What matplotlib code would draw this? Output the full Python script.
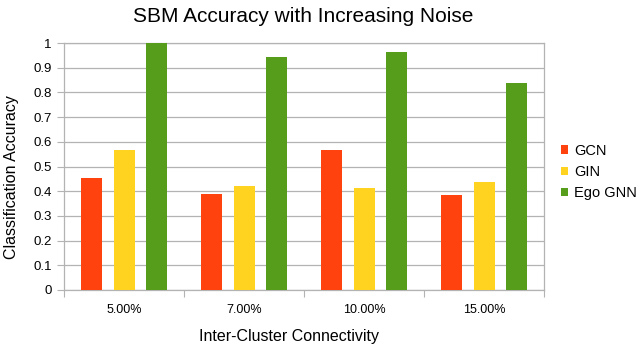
import matplotlib
matplotlib.use("Agg")
import matplotlib.pyplot as plt
import numpy as np

plt.rcParams['font.family'] = ['Liberation Sans', 'DejaVu Sans']

categories = ["5.00%", "7.00%", "10.00%", "15.00%"]
series_names = ["GCN", "GIN", "Ego GNN"]
gcn = [0.455, 0.387, 0.567, 0.385]
gin = [0.568, 0.422, 0.412, 0.437]
ego = [1.0, 0.945, 0.965, 0.837]
colors = ["#ff420e", "#ffd320", "#579d1c"]
yticks = [0, 0.1, 0.2, 0.3, 0.4, 0.5, 0.6, 0.7, 0.8, 0.9, 1]
ytick_labels = ["0", "0.1", "0.2", "0.3", "0.4", "0.5", "0.6", "0.7", "0.8", "0.9", "1"]

W, H = 640, 346
fig = plt.figure(figsize=(W / 100, H / 100), dpi=100)
ax = fig.add_axes([64 / W, 1 - 290 / H, 480 / W, 247 / H])

x = np.arange(len(categories))
width = 0.175
step = 0.267
for i, (vals, name, c) in enumerate(zip([gcn, gin, ego], series_names, colors)):
    ax.bar(x + (i - 1) * step, vals, width, color=c, label=name, zorder=3)

ax.set_xlim(-0.5, len(categories) - 0.5)
ax.set_ylim(0, 1)
ax.set_yticks(yticks)
ax.set_yticklabels(ytick_labels, fontsize=9.5)
ax.yaxis.grid(True, color="#b3b3b3", linewidth=0.9, zorder=0)
ax.tick_params(axis='y', length=5, color="#b3b3b3", pad=4)

ax.set_xticks(np.arange(-0.5, len(categories), 1.0))
ax.set_xticklabels([])
ax.set_xticks(x, minor=True)
ax.set_xticklabels(categories, minor=True, fontsize=9)
ax.tick_params(axis='x', which='major', length=5, color="#b3b3b3")
ax.tick_params(axis='x', which='minor', length=0, pad=10)

for s in ax.spines.values():
    s.set_color("#b3b3b3")
    s.set_linewidth(0.9)

fig.text(303 / W, 1 - 16 / H, "SBM Accuracy with Increasing Noise",
         fontsize=15, ha='center', va='center')
fig.text(289 / W, 1 - 337 / H, "Inter-Cluster Connectivity",
         fontsize=11.5, ha='center', va='center')
fig.text(12 / W, 1 - 177.5 / H, "Classification Accuracy",
         fontsize=11.5, ha='center', va='center', rotation=90)

ax.legend(loc='center left', bbox_to_anchor=(1.035, 0.478), frameon=False,
          fontsize=10.5, handlelength=0.5, handleheight=0.5, handletextpad=0.4,
          labelspacing=0.5, borderpad=0, borderaxespad=0)

fig.savefig("out.png", dpi=100)
